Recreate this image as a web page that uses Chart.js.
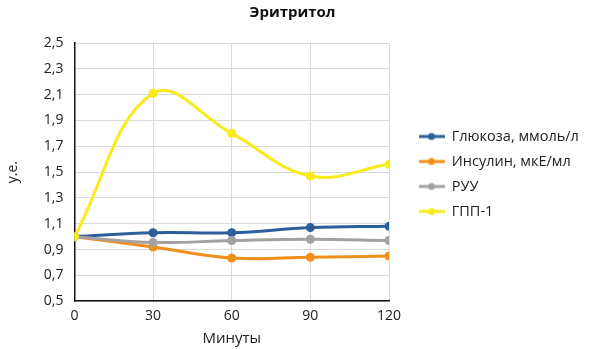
<!DOCTYPE html>
<html>
<head>
<meta charset="utf-8">
<script src="https://cdn.jsdelivr.net/npm/chart.js@4.4.0/dist/chart.umd.min.js"></script>
<style>
  html, body { margin: 0; padding: 0; background: #fff; }
  #wrap { width: 600px; height: 349px; }
</style>
</head>
<body>
<div id="wrap"><canvas id="chart" width="600" height="349"></canvas></div>
<script>
const minutes = [0, 30, 60, 90, 120]
const seriesNames = ['Глюкоза, ммоль/л', 'Инсулин, мкЕ/мл', 'РУУ', 'ГПП-1']
const glucose = [1.0, 1.03, 1.03, 1.07, 1.08]
const insulin = [1.0, 0.92, 0.835, 0.84, 0.85]
const ruu = [1.0, 0.955, 0.97, 0.98, 0.97]
const glp1 = [1.0, 2.11, 1.8, 1.47, 1.56]

const COLORS = ['#2d5f9a', '#f0901c', '#a2a2a2', '#f9ea1a']
const FONT = '"Open Sans", "Noto Sans", sans-serif'

function toPoints(values) {
  return minutes.map((m, i) => ({ x: m, y: values[i] }))
}

// line + dot marker for the legend
function legendMarker(color) {
  const c = document.createElement('canvas')
  c.width = 26
  c.height = 10
  const ctx = c.getContext('2d')
  ctx.strokeStyle = color
  ctx.lineWidth = 3
  ctx.beginPath()
  ctx.moveTo(0, 5)
  ctx.lineTo(26, 5)
  ctx.stroke()
  ctx.fillStyle = color
  ctx.beginPath()
  ctx.arc(13, 5, 3.5, 0, Math.PI * 2)
  ctx.fill()
  return c
}

const allValues = [glucose, insulin, ruu, glp1]
const datasets = allValues.map((vals, i) => ({
  label: seriesNames[i],
  data: toPoints(vals),
  borderColor: COLORS[i],
  backgroundColor: COLORS[i],
  borderWidth: 3,
  pointRadius: 4.5,
  pointBorderWidth: 0,
  tension: 0.4,
  order: 4 - i,
}))

// keep the legend a fixed width and push its items a bit right
const legendWidth = 191
const legendShift = 19
const fixLegend = {
  id: 'fixLegend',
  beforeInit(chart) {
    const fit = chart.legend.fit
    chart.legend.fit = function () {
      fit.bind(chart.legend)()
      this.width = legendWidth
    }
  },
  afterLayout(chart) {
    chart.legend.left += legendShift
    chart.legend.right += legendShift
  },
}

new Chart(document.getElementById('chart').getContext('2d'), {
  type: 'line',
  data: { datasets: datasets },
  plugins: [fixLegend],
  options: {
    responsive: false,
    animation: false,
    layout: { padding: { left: 5, right: 20, top: 0, bottom: 1 } },
    plugins: {
      title: {
        display: true,
        text: 'Эритритол',
        color: '#111',
        font: { family: FONT, size: 15, weight: 'bold' },
        padding: { top: 4, bottom: 21 },
      },
      legend: {
        position: 'right',
        align: 'center',
        labels: {
          color: '#222',
          font: { family: FONT, size: 14.5 },
          usePointStyle: true,
          pointStyleWidth: 26,
          padding: 10.5,
          generateLabels(chart) {
            return chart.data.datasets.map((ds, i) => ({
              text: ds.label,
              pointStyle: legendMarker(COLORS[i]),
              fillStyle: COLORS[i],
              strokeStyle: COLORS[i],
              fontColor: '#222',
              lineWidth: 0,
              datasetIndex: i,
              hidden: false,
            }))
          },
        },
      },
      tooltip: { enabled: false },
    },
    scales: {
      x: {
        type: 'linear',
        min: 0,
        max: 120,
        ticks: {
          stepSize: 30,
          color: '#222',
          font: { family: FONT, size: 14 },
          padding: 6,
        },
        grid: { color: '#d9d9d9', drawTicks: false },
        border: { color: '#111', width: 1.5 },
        title: {
          display: true,
          text: 'Минуты',
          color: '#222',
          font: { family: FONT, size: 15 },
          padding: { top: 0, bottom: 0 },
        },
      },
      y: {
        min: 0.5,
        max: 2.5,
        ticks: {
          stepSize: 0.2,
          color: '#222',
          font: { family: FONT, size: 14 },
          padding: 11,
          callback: (v) => v.toFixed(1).replace('.', ','),
        },
        grid: { color: '#d9d9d9', drawTicks: false },
        border: { color: '#111', width: 1.5 },
        title: {
          display: true,
          text: 'у.е.',
          color: '#222',
          font: { family: FONT, size: 14 },
          padding: { top: 0, bottom: 11 },
        },
      },
    },
  },
})
</script>
</body>
</html>
